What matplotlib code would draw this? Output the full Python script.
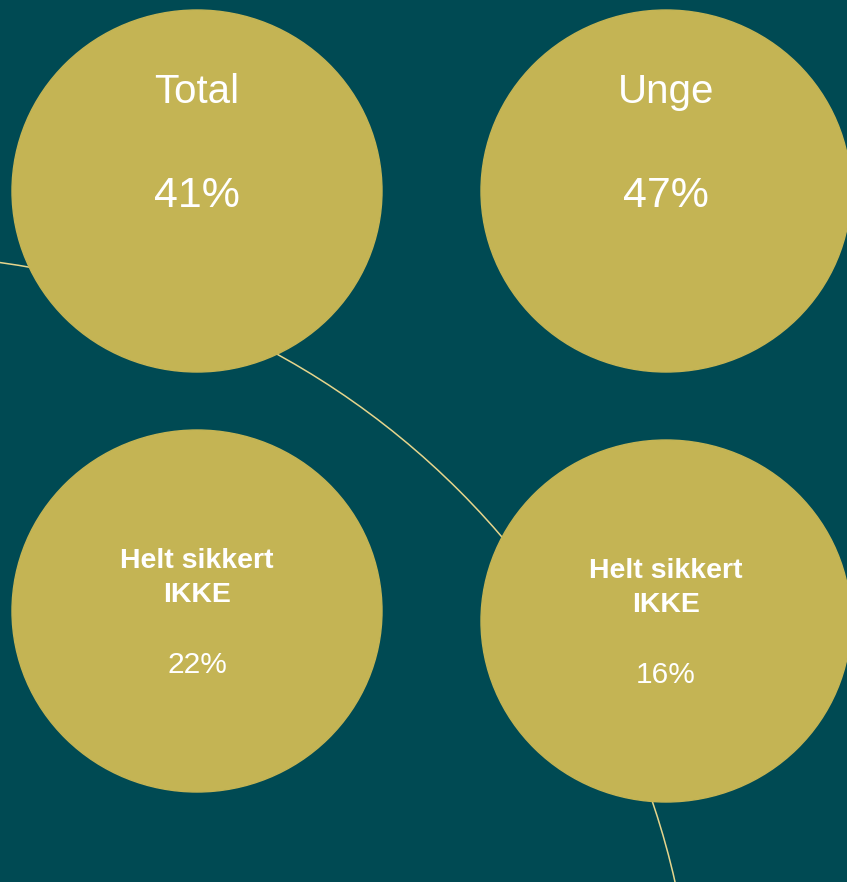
import matplotlib.pyplot as plt
from matplotlib.patches import Ellipse, Arc

plt.rcParams['font.family'] = ['Liberation Sans', 'DejaVu Sans']

bg = '#004A53'
gold = '#C4B454'

# top row: group circles
groups = ['Total', 'Unge']
group_values = [41, 47]
# bottom row: "Helt sikkert IKKE" share
bottom_label = 'Helt sikkert\nIKKE'
bottom_values = [22, 16]

fig = plt.figure(figsize=(8.47, 8.82), dpi=100)
fig.patch.set_facecolor(bg)
ax = fig.add_axes([0, 0, 1, 1])
ax.set_facecolor(bg)
ax.set_xlim(0, 847)
ax.set_ylim(882, 0)
ax.axis('off')

# thin background arc
arc = Arc((-110, 1060), 1610, 1610, theta1=270, theta2=360, color='#E6D58C', lw=1.1, zorder=1)
ax.add_patch(arc)

xs = [197, 666]
for i in range(2):
    ax.add_patch(Ellipse((xs[i], 191), 370, 362, color=gold, zorder=2))
    ax.text(xs[i], 92, groups[i], ha='center', va='center', color='white', fontsize=29, zorder=3)
    ax.text(xs[i], 196, f'{group_values[i]}%', ha='center', va='center', color='white', fontsize=31, zorder=3)

ys = [611, 621]
for i in range(2):
    ax.add_patch(Ellipse((xs[i], ys[i]), 370, 362, color=gold, zorder=2))
    ax.text(xs[i], ys[i] - 33, bottom_label, ha='center', va='center', color='white',
            fontsize=20.5, fontweight='bold', linespacing=1.35, zorder=3)
    ax.text(xs[i], ys[i] + 54, f'{bottom_values[i]}%', ha='center', va='center', color='white',
            fontsize=21.5, zorder=3)

fig.savefig('out.png', dpi=100, facecolor=bg)
